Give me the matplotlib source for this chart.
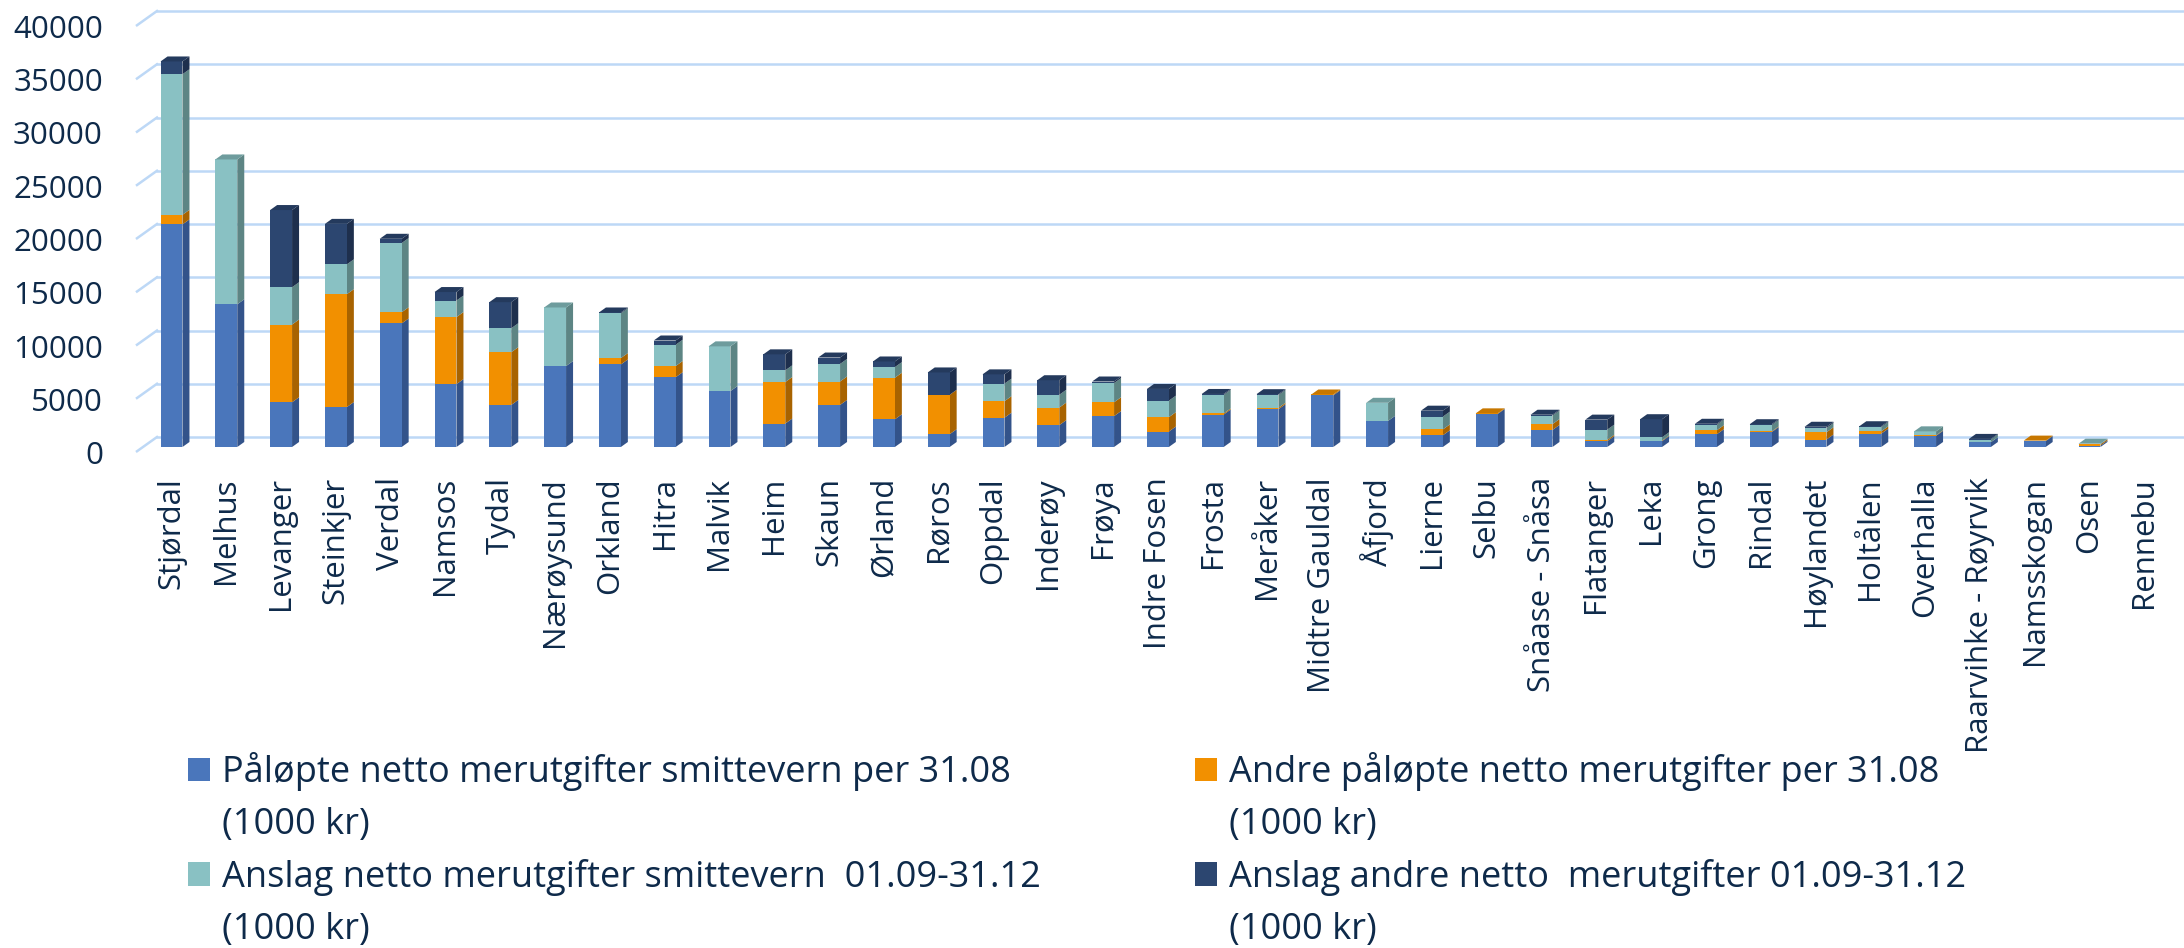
import matplotlib.pyplot as plt
import matplotlib.transforms as mtransforms
from matplotlib.patches import Polygon, Rectangle

plt.rcParams['font.family'] = ['Open Sans', 'DejaVu Sans']

# === DATA (1000 kr) ===
kommuner = ["Stjørdal", "Melhus", "Levanger", "Steinkjer", "Verdal", "Namsos", "Tydal",
            "Nærøysund", "Orkland", "Hitra", "Malvik", "Heim", "Skaun", "Ørland", "Røros",
            "Oppdal", "Inderøy", "Frøya", "Indre Fosen", "Frosta", "Meråker", "Midtre Gauldal",
            "Åfjord", "Lierne", "Selbu", "Snåase - Snåsa", "Flatanger", "Leka", "Grong",
            "Rindal", "Høylandet", "Holtålen", "Overhalla", "Raarvihke - Røyrvik",
            "Namsskogan", "Osen", "Rennebu"]

smittevern_paalopt = [20900, 13400, 4200, 3750, 11600, 5900, 3950, 7600, 7750, 6550, 5250,
                      2200, 3950, 2600, 1200, 2750, 2050, 2900, 1450, 3050, 3550, 4850, 2450,
                      1100, 3100, 1600, 550, 550, 1200, 1400, 700, 1250, 1050, 450, 550, 130, 0]
andre_paalopt = [900, 0, 7300, 10600, 1050, 6300, 4950, 0, 600, 1050, 0, 3900, 2200, 3900,
                 3700, 1550, 1650, 1300, 1350, 100, 130, 80, 0, 550, 60, 550, 130, 60, 370,
                 60, 680, 220, 50, 0, 50, 120, 0]
smittevern_anslag = [13200, 13600, 3500, 2800, 6500, 1550, 2250, 5500, 4200, 2000, 4200, 1100,
                     1650, 1000, 0, 1650, 1200, 1800, 1550, 1750, 1200, 0, 1700, 1200, 0, 800,
                     950, 300, 530, 600, 400, 400, 370, 250, 0, 60, 0]
andre_anslag = [1200, 0, 7250, 3800, 400, 800, 2450, 0, 80, 400, 0, 1500, 600, 530, 2100, 870,
                1370, 150, 1100, 80, 80, 0, 0, 560, 0, 80, 940, 1700, 80, 80, 120, 80, 0, 60,
                0, 0, 0]

serie_navn = ["Påløpte netto merutgifter smittevern per 31.08",
              "Andre påløpte netto merutgifter per 31.08",
              "Anslag netto merutgifter smittevern  01.09-31.12",
              "Anslag andre netto  merutgifter 01.09-31.12"]
enhet = "(1000 kr)"
y_ticks = [0, 5000, 10000, 15000, 20000, 25000, 30000, 35000, 40000]

# === STYLE ===
front = ["#4A76BB", "#F29000", "#89C1C3", "#2C4670"]
side = ["#33538A", "#A86300", "#5D8584", "#1E2F4D"]
top = ["#3D6299", "#C77700", "#6E9C9D", "#243A5D"]
tekst = "#0E2A4A"
grid = "#BDD8F6"

W, H = 2184, 948
px_per_unit = 10.65 / 1000      # vertical pixels per 1000 kr
base_px = 447                   # pixel row of value 0 (from top)
ymin, ymax = -1000, 41500
slot = 54.8                     # pixels between bar centres
x0_px = 171.5                   # centre of first bar
left_px = 130

bar_w = 0.40
dx = 7 / slot                   # 3D depth, x
dy = 5 / px_per_unit            # 3D depth, y
back_dy = 10 / px_per_unit      # back wall offset

fig = plt.figure(figsize=(W / 100, H / 100), dpi=100)
ax_bottom = base_px + (-ymin) * px_per_unit
ax_top = base_px - ymax * px_per_unit
ax = fig.add_axes([left_px / W, 1 - ax_bottom / H, (W - left_px) / W, (ax_bottom - ax_top) / H])
ax.set_xlim((left_px - x0_px) / slot, (W - x0_px) / slot)
ax.set_ylim(ymin, ymax)
for s in ax.spines.values():
    s.set_visible(False)

# === GRID (back wall + floor stubs) ===
xb = (157 - x0_px) / slot
xs = (137 - x0_px) / slot
for v in y_ticks:
    ax.plot([xb, ax.get_xlim()[1]], [v + back_dy, v + back_dy], color=grid, lw=1.8, zorder=0)
    ax.plot([xs, xb], [v - 400, v + back_dy], color=grid, lw=1.8, zorder=0)

# === BARS ===
serier = [smittevern_paalopt, andre_paalopt, smittevern_anslag, andre_anslag]
x = list(range(len(kommuner)))
bunn = [0] * len(kommuner)
containers = []
for k, verdier in enumerate(serier):
    c = ax.bar(x, verdier, bar_w, bottom=bunn, color=front[k], label=serie_navn[k], zorder=3)
    containers.append(c)
    for i in x:
        if verdier[i] <= 0:
            continue
        b, t = bunn[i], bunn[i] + verdier[i]
        xr = i + bar_w / 2
        ax.add_patch(Polygon([(xr, b), (xr + dx, b + dy), (xr + dx, t + dy), (xr, t)],
                             closed=True, facecolor=side[k], edgecolor="none", zorder=2))
    bunn = [bunn[i] + verdier[i] for i in x]

# top face coloured by the highest non-zero series
for i in x:
    if bunn[i] <= 0:
        continue
    k = max(j for j in range(4) if serier[j][i] > 0)
    t = bunn[i]
    xl, xr = i - bar_w / 2, i + bar_w / 2
    ax.add_patch(Polygon([(xl, t), (xl + dx, t + dy), (xr + dx, t + dy), (xr, t)],
                         closed=True, facecolor=top[k], edgecolor="none", zorder=4))

# === AXES TEXT ===
ax.set_xticks(x)
ax.set_xticklabels(kommuner, rotation=90, fontsize=22.5, color=tekst)
ax.set_yticks(y_ticks)
ax.set_yticklabels([str(v) for v in y_ticks], fontsize=22.5, color=tekst)
ax.tick_params(axis="x", length=0, pad=14)
ax.tick_params(axis="y", length=0, pad=19.5)
off = mtransforms.ScaledTranslation(0, -5.5 / 100, fig.dpi_scale_trans)
for lab in ax.get_yticklabels():
    lab.set_transform(lab.get_transform() + off)

# === LEGEND ===
tom = Rectangle((0, 0), 1, 1, facecolor="none", edgecolor="none")
rekkefolge = [0, 2, 1, 3]
handles, labels = [], []
for k in rekkefolge:
    handles += [containers[k], tom]
    labels += [serie_navn[k], enhet]
fig.legend(handles, labels, ncol=2, loc="upper left", bbox_to_anchor=(188 / W, 1 - 752 / H),
           frameon=False, fontsize=26, labelcolor=tekst, handlelength=0.62, handleheight=0.62,
           handletextpad=0.33, columnspacing=4.25, labelspacing=0.44, borderpad=0,
           borderaxespad=0)

fig.savefig("out.png", dpi=100)
